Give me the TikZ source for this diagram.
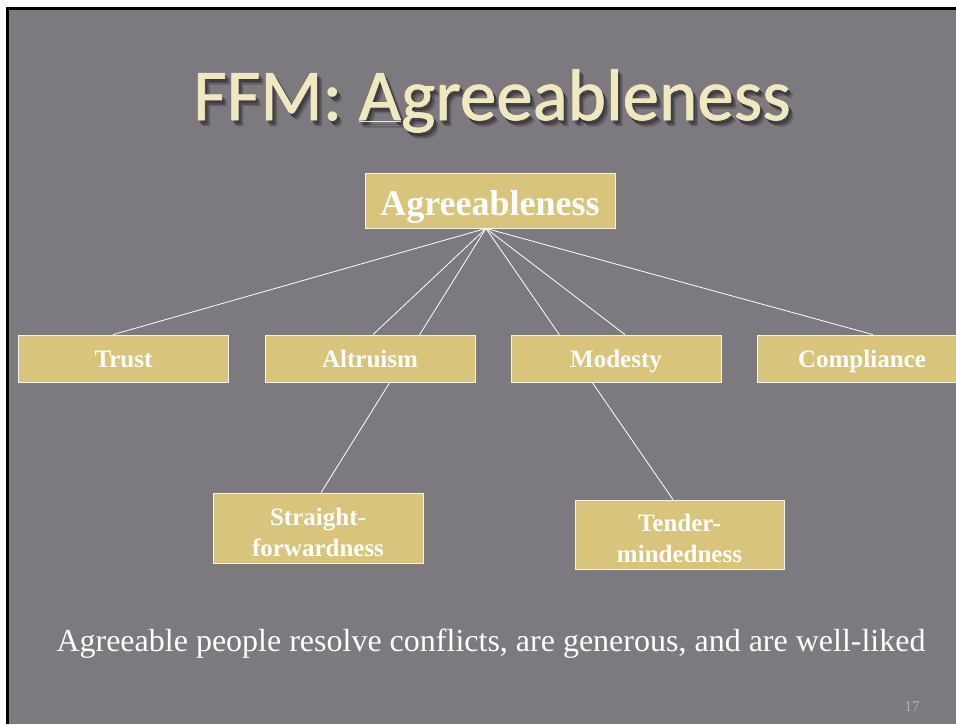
\documentclass[tikz,border=0pt]{standalone}
\usepackage{fontspec}
\setmainfont{Liberation Serif}
\newfontfamily\titlefont[FakeBold=1]{Carlito}
\usetikzlibrary{calc}

\definecolor{slidegray}{RGB}{124,121,127}
\definecolor{boxfill}{RGB}{217,196,123}
\definecolor{boxedge}{RGB}{244,242,234}
\definecolor{titlecream}{RGB}{240,232,190}
\definecolor{pagenum}{RGB}{178,175,182}

\pgfdeclarelayer{slide}
\pgfdeclarelayer{links}
\pgfsetlayers{slide,links,main}

\newcommand{\slidetitle}{FFM: \underline{A}greeableness}
\newcommand{\twolines}[2]{\raisebox{3pt}[0pt][0pt]{\begin{tabular}[t]{@{}c@{}}#1\\#2\end{tabular}}}

\begin{document}
\begin{tikzpicture}[x=1pt, y=-1pt,
  facet/.style={draw=boxedge, line width=0.8pt, fill=boxfill, text=white,
    font=\bfseries\fontsize{25}{31}\selectfont, inner sep=0pt, align=center,
    minimum width=210pt, minimum height=47pt, text height=20pt, text depth=3pt},
  tallfacet/.style={facet, minimum height=70pt, text height=0pt, text depth=0pt},
  rootbox/.style={facet, font=\bfseries\fontsize{36}{43}\selectfont,
    minimum width=250pt, minimum height=55pt, text height=33pt, text depth=4pt},
  link/.style={draw=white, line width=0.8pt},
  titletext/.style={font=\titlefont\fontsize{73}{88}\selectfont, anchor=base, inner sep=0pt}]

\useasboundingbox (0,0) rectangle (956,724);

% slide background with its dark frame
\begin{pgfonlayer}{slide}
\fill[white] (0,0) rectangle (956,724);
\fill[black] (6,7) rectangle (956,724);
\fill[slidegray] (8.5,9.5) rectangle (956,724);
\end{pgfonlayer}

% title with soft drop shadow
\foreach \dx/\dy/\op in {2/3/0.22, 3.5/4.5/0.2, 5/6/0.12}{
  \node[titletext, text=black, opacity=\op] at (492+\dx,120+\dy) {\slidetitle};
}
\node[titletext, text=titlecream] (title) at (492,120) {\slidetitle};

% hierarchy boxes
\node[rootbox] (root) at (490,200.5) {Agreeableness};
\coordinate (hub) at ($(root.south)+(-4,0)$);

\node[facet] (trust) at (123.5,358.5) {Trust};
\node[facet] (altruism) at (370,358.5) {Altruism};
\node[facet] (modesty) at (616,358.5) {Modesty};
\node[facet] (compliance) at (862,358.5) {Compliance};
\node[tallfacet] (straight) at (318,528) {\twolines{Straight-}{forwardness}};
\node[tallfacet, minimum width=209pt, minimum height=69pt] (tender) at (679.5,534.5) {\twolines{Tender-}{mindedness}};

% connectors, kept beneath the boxes
\begin{pgfonlayer}{links}
\draw[link] (hub) -- ($(trust.north)+(-10.5,0)$);
\draw[link] (hub) -- ($(altruism.north)+(3,0)$);
\draw[link] (hub) -- ($(straight.north)+(3,0)$);
\draw[link] (hub) -- ($(tender.north)+(-6.5,0)$);
\draw[link] (hub) -- ($(modesty.north)+(9,0)$);
\draw[link] (hub) -- ($(compliance.north)+(11,0)$);
\end{pgfonlayer}

% caption and slide number
\node[anchor=base, text=white, font=\fontsize{32}{38}\selectfont, inner sep=0pt] (caption) at (491,651)
  {Agreeable people resolve conflicts, are generous, and are well-liked};
\node[anchor=base, text=pagenum, font=\fontsize{15}{18}\selectfont, inner sep=0pt] (pagenumber) at (912,711) {17};

\end{tikzpicture}
\end{document}
